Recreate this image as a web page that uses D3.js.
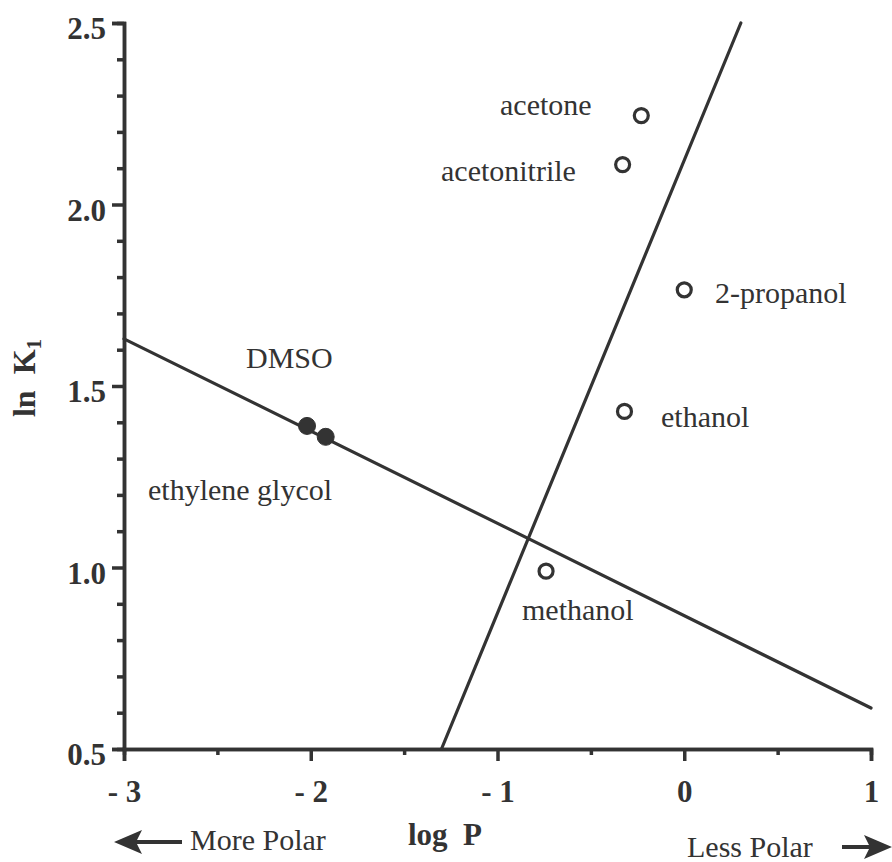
<!DOCTYPE html>
<html>
<head>
<meta charset="utf-8">
<script src="https://cdn.jsdelivr.net/npm/d3@7"></script>
<style>
  html, body { margin: 0; padding: 0; background: #fff; }
  svg { display: block; }
  text { font-family: "Liberation Serif", "Times New Roman", serif; fill: #333; }
  .tick-label { font-weight: bold; font-size: 31px; }
</style>
</head>
<body>
<svg id="chart" width="892" height="862"></svg>
<script>
// Solvents: log P against ln K1
const solvents   = ["acetone", "acetonitrile", "2-propanol", "ethanol", "methanol", "DMSO", "ethylene glycol"];
const logP       = [-0.23, -0.33, 0.00, -0.32, -0.74, -2.02, -1.92];
const lnK1       = [2.245, 2.11, 1.765, 1.43, 0.99, 1.39, 1.36];
const filledDot  = [false, false, false, false, false, true, true];

// Two straight fit lines, given by their end points (log P, ln K1)
const lineProtic  = [[-3, 1.63], [1, 0.613]];
const lineAprotic = [[-1.30, 0.5], [0.303, 2.5]];

// Axis ticks
const xMajor = [-3, -2, -1, 0, 1];
const xMinor = [-2.5, -1.5, -0.5, 0.5];
const xTickText = ["- 3", "- 2", "- 1", "0", "1"];
const yMajor = [0.5, 1.0, 1.5, 2.0, 2.5];
const yMinor = [0.6, 0.7, 0.8, 0.9, 1.1, 1.2, 1.3, 1.4, 1.6, 1.7, 1.8, 1.9, 2.1, 2.2, 2.3, 2.4];

const ink = "#333";
const svg = d3.select("#chart");
const x = d3.scaleLinear().domain([-3, 1]).range([124, 871]);
const y = d3.scaleLinear().domain([0.5, 2.5]).range([749, 23]);

function styleAxis(g) {
  g.select(".domain").attr("stroke", ink).attr("stroke-width", 3.5);
  g.selectAll(".tick line").attr("stroke", ink).attr("stroke-width", 3.5);
}

// y axis: minor ticks, then major ticks with labels
svg.append("g").attr("transform", `translate(${x(-3)},0)`)
  .call(d3.axisLeft(y).tickValues(yMinor).tickSize(7).tickFormat(""))
  .call(styleAxis);
svg.append("g").attr("transform", `translate(${x(-3)},0)`)
  .call(d3.axisLeft(y).tickValues(yMajor).tickSize(12).tickPadding(6).tickFormat(d3.format(".1f")))
  .call(styleAxis)
  .call(g => g.selectAll(".tick text").attr("class", "tick-label").attr("fill", ink)
    .attr("font-family", null).attr("font-size", null).attr("dy", "0.5em"));

// x axis: minor ticks, then major ticks with labels
svg.append("g").attr("transform", `translate(0,${y(0.5)})`)
  .call(d3.axisBottom(x).tickValues(xMinor).tickSize(6).tickFormat(""))
  .call(styleAxis);
svg.append("g").attr("transform", `translate(0,${y(0.5)})`)
  .call(d3.axisBottom(x).tickValues(xMajor).tickSize(12).tickFormat((d, i) => xTickText[i]))
  .call(styleAxis)
  .call(g => g.selectAll(".tick text").attr("class", "tick-label").attr("fill", ink)
    .attr("font-family", null).attr("font-size", null)
    .attr("y", 53).attr("dy", 0).style("white-space", "pre"));

// Fit lines
const line = d3.line().x(d => x(d[0])).y(d => y(d[1]));
[lineProtic, lineAprotic].forEach(pts => {
  svg.append("path").attr("d", line(pts))
    .attr("fill", "none").attr("stroke", ink).attr("stroke-width", 3.2).attr("stroke-linecap", "round");
});

// Points
const pts = solvents.map((s, i) => ({ name: s, x: logP[i], y: lnK1[i], filled: filledDot[i] }));
svg.selectAll("circle.pt").data(pts).join("circle")
  .attr("class", "pt")
  .attr("cx", d => x(d.x)).attr("cy", d => y(d.y))
  .attr("r", d => d.filled ? 8.5 : 7)
  .attr("fill", d => d.filled ? ink : "#fff")
  .attr("stroke", ink).attr("stroke-width", d => d.filled ? 1 : 3.2);

// Point labels
const labelPos = {
  "acetone":         [500, 115],
  "acetonitrile":    [441, 181],
  "2-propanol":      [715, 303],
  "ethanol":         [661, 427],
  "methanol":        [522, 620],
  "DMSO":            [246, 368],
  "ethylene glycol": [148, 500]
};
svg.selectAll("text.pt-label").data(pts).join("text")
  .attr("class", "pt-label")
  .attr("x", d => labelPos[d.name][0]).attr("y", d => labelPos[d.name][1])
  .attr("font-size", 30)
  .text(d => d.name);

// Axis titles
svg.append("text")
  .attr("x", 445).attr("y", 845).attr("text-anchor", "middle")
  .attr("font-weight", "bold").attr("font-size", 31)
  .style("white-space", "pre")
  .text("log  P");

const yTitle = svg.append("text")
  .attr("transform", "translate(35,378) rotate(-90)")
  .attr("text-anchor", "middle")
  .attr("font-weight", "bold").attr("font-size", 32)
  .style("white-space", "pre");
yTitle.append("tspan").text("ln  K");
yTitle.append("tspan").attr("font-size", 21).attr("dy", 6).text("1");

// Polarity direction notes with arrows
svg.append("text").attr("x", 190).attr("y", 850).attr("font-size", 30).text("More Polar");
svg.append("text").attr("x", 687).attr("y", 857).attr("font-size", 30).text("Less Polar");

svg.append("line").attr("x1", 182).attr("y1", 842).attr("x2", 132).attr("y2", 842)
  .attr("stroke", ink).attr("stroke-width", 4);
svg.append("path").attr("d", "M114,842 L142,830 L136,842 L142,854 Z").attr("fill", ink);

svg.append("line").attr("x1", 842).attr("y1", 847).attr("x2", 875).attr("y2", 847)
  .attr("stroke", ink).attr("stroke-width", 4);
svg.append("path").attr("d", "M892,847 L864,835 L870,847 L864,859 Z").attr("fill", ink);
</script>
</body>
</html>
